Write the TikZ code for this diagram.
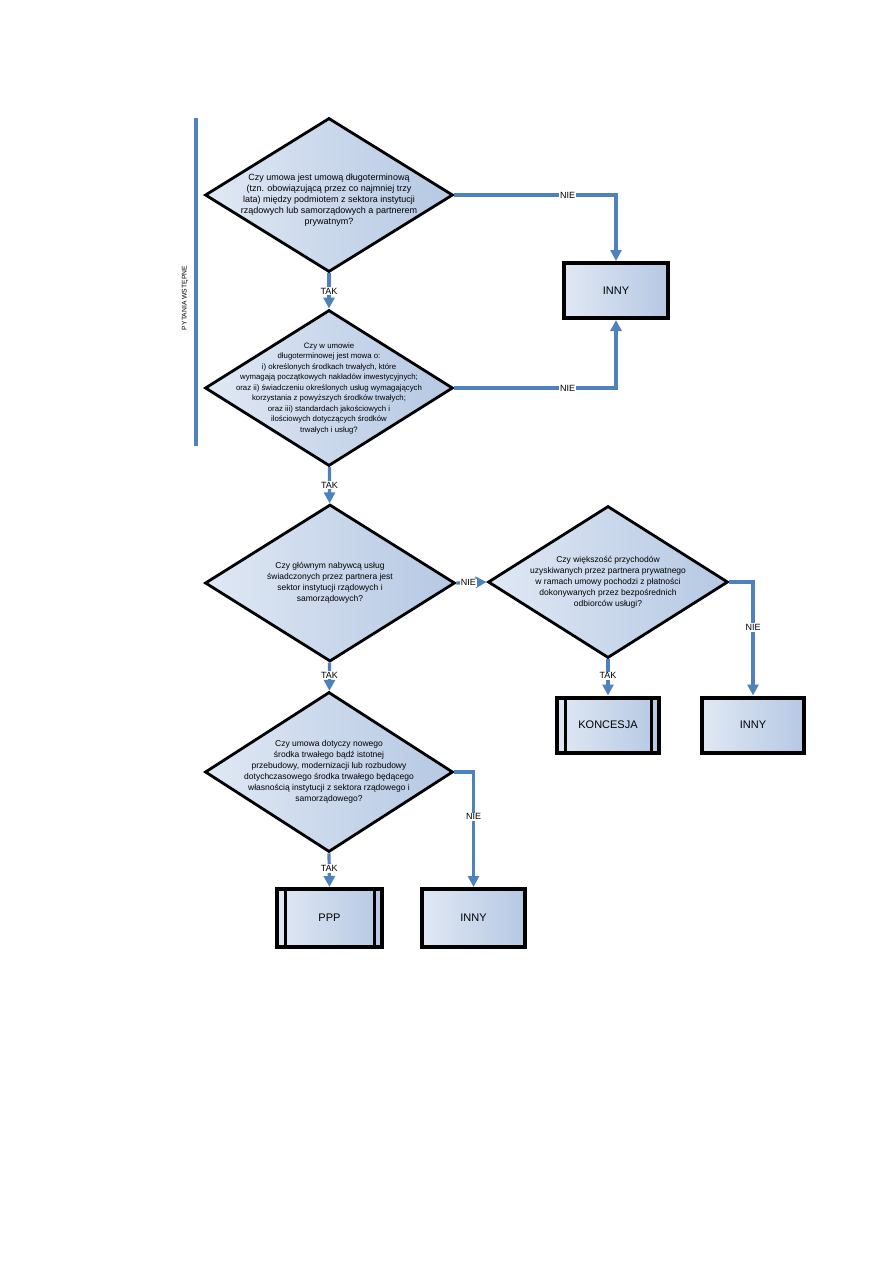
\documentclass[tikz,border=0pt]{standalone}
\usepackage{fontspec}
\setmainfont{Liberation Sans}
\usetikzlibrary{arrows.meta,shapes.geometric,calc}

\definecolor{flowblue}{RGB}{79,129,189}
\definecolor{filllight}{RGB}{224,232,244}
\definecolor{filldark}{RGB}{181,200,227}

\begin{document}
\begin{tikzpicture}[x=1pt, y=-1pt,
  >={Triangle[width=11pt,length=11pt]},
  decision/.style={draw, diamond, line width=2.8pt, inner sep=0pt, left color=filllight, right color=filldark},
  qtext/.style={align=center, inner sep=0pt, font=\fontsize{8.5}{11}\selectfont},
  resultbox/.style={draw, rectangle, line width=4pt, left color=filllight, right color=filldark, minimum width=102pt, minimum height=55pt, font=\fontsize{11}{13}\selectfont},
  processbox/.style={resultbox, path picture={
      \draw[line width=3pt] ([xshift=8pt]path picture bounding box.north west) -- ([xshift=8pt]path picture bounding box.south west);
      \draw[line width=3pt] ([xshift=-8pt]path picture bounding box.north east) -- ([xshift=-8pt]path picture bounding box.south east);}},
  flow/.style={->, draw=flowblue, line width=3.2pt},
  yn/.style={fill=white, inner sep=1pt, font=\fontsize{9}{10}\selectfont}]
  \useasboundingbox (0,0) rectangle (893,1263);

  % phase marker
  \coordinate (phasetop) at (196,118);
  \coordinate (phasebot) at (196,446);
  \draw[flowblue, line width=3.2pt] (phasetop) -- (phasebot);
  \node[rotate=90, font=\fontsize{6.8}{7}\selectfont] (phase) at (185,298) {PYTANIA WSTĘPNE};

  % questions
  \node[decision, minimum width=248pt, minimum height=154pt] (q1) at (329,195) {};
  \node[qtext, font=\fontsize{9}{11}\selectfont] (q1txt) at ([yshift=-5pt]q1.center) {Czy umowa jest umową długoterminową\\(tzn. obowiązującą przez co najmniej trzy\\lata) między podmiotem z sektora instytucji\\rządowych lub samorządowych a partnerem\\prywatnym?};
  \node[decision, minimum width=248pt, minimum height=156pt] (q2) at (329,388) {};
  \node[qtext, font=\fontsize{7.8}{10.5}\selectfont] (q2txt) at (q2) {Czy w umowie\\długoterminowej jest mowa o:\\i) określonych środkach trwałych, które\\wymagają początkowych nakładów inwestycyjnych;\\oraz ii) świadczeniu określonych usług wymagających\\korzystania z powyższych środków trwałych;\\oraz iii) standardach jakościowych i\\ilościowych dotyczących środków\\trwałych i usług?};
  \node[decision, minimum width=250pt, minimum height=157pt] (q3) at (330,583) {};
  \node[qtext] (q3txt) at (q3) {Czy głównym nabywcą usług\\świadczonych przez partnera jest\\sektor instytucji rządowych i\\samorządowych?};
  \node[decision, minimum width=240pt, minimum height=152pt] (q4) at (608,582) {};
  \node[qtext] (q4txt) at (q4) {Czy większość przychodów\\uzyskiwanych przez partnera prywatnego\\w ramach umowy pochodzi z płatności\\dokonywanych przez bezpośrednich\\odbiorców usługi?};
  \node[decision, minimum width=248pt, minimum height=160pt] (q5) at (329,772) {};
  \node[qtext] (q5txt) at (q5) {Czy umowa dotyczy nowego\\środka trwałego bądź istotnej\\przebudowy, modernizacji lub rozbudowy\\dotychczasowego środka trwałego będącego\\własnością instytucji z sektora rządowego i\\samorządowego?};

  % outcomes
  \node[resultbox, minimum width=104pt] (inny1) at (616,290.5) {INNY};
  \node[processbox] (koncesja) at (608,725) {KONCESJA};
  \node[resultbox] (inny2) at (753,725) {INNY};
  \node[processbox, minimum width=105pt, minimum height=58pt] (ppp) at (329.5,918) {PPP};
  \node[resultbox, minimum width=103pt, minimum height=58pt] (inny3) at (473.5,918) {INNY};

  % connectors
  \draw[flow] (q1) -- node[yn] {TAK} (q2);
  \draw[flow] (q1.east) -- node[yn, pos=.7] {NIE} (q1.east -| inny1.north) -- (inny1.north);
  \draw[flow] (q2.east) -- node[yn, pos=.7] {NIE} (q2.east -| inny1.south) -- (inny1.south);
  \draw[flow] (q2) -- node[yn] {TAK} (q3);
  \draw[flow] (q3.east) -- node[yn, pos=.4] {NIE} (q4.west);
  \draw[flow] (q3) -- node[yn, pos=.45] {TAK} (q5);
  \draw[flow] (q4.south) -- node[yn, pos=.45] {TAK} (koncesja.north);
  \draw[flow] (q4.east) -- (q4.east -| inny2.north) -- node[yn, pos=.4] {NIE} (inny2.north);
  \draw[flow] (q5.south) -- node[yn, pos=.45] {TAK} (ppp.north);
  \draw[flow] (q5.east) -- (q5.east -| inny3.north) -- node[yn, pos=.39] {NIE} (inny3.north);
\end{tikzpicture}
\end{document}
